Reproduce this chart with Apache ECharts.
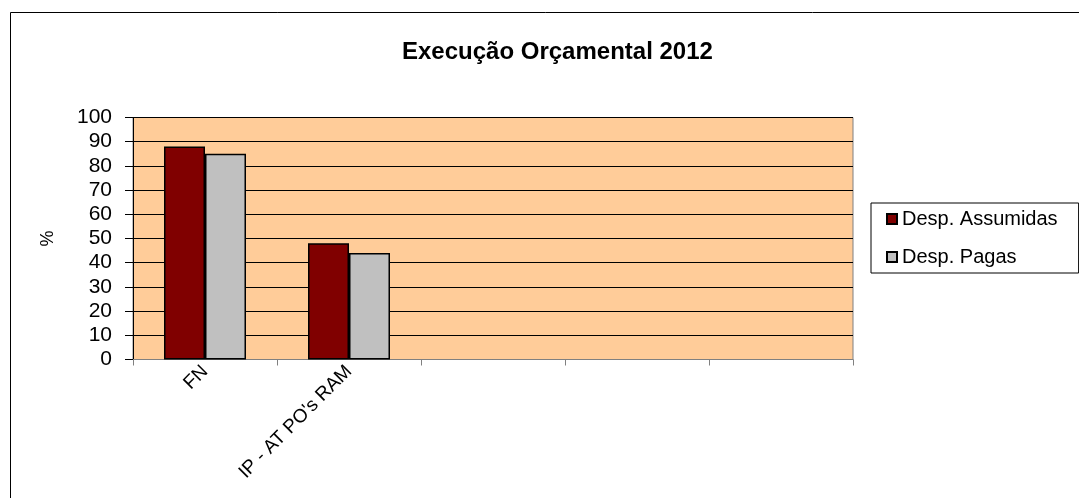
<!DOCTYPE html>
<html>
<head>
<meta charset="utf-8">
<script src="https://cdn.jsdelivr.net/npm/echarts@6/dist/echarts.min.js"></script>
<style>
  html, body { margin: 0; padding: 0; background: #fff; }
  #chart { width: 1079px; height: 498px; }
</style>
</head>
<body>
<div id="chart"></div>
<script>
// Budget execution 2012, percentages by programme
const categories = ['FN', "IP - AT PO's RAM", '', '', ''];
const despAssumidas = [88, 48, null, null, null];
const despPagas = [85, 44, null, null, null];
const yTicks = [0, 10, 20, 30, 40, 50, 60, 70, 80, 90, 100];

const chart = echarts.init(document.getElementById('chart'), null, { renderer: 'canvas' });
const font = 'Liberation Sans, Arial, sans-serif';

chart.setOption({
  animation: false,
  backgroundColor: '#fff',
  textStyle: { fontFamily: font },
  title: {
    text: 'Execução Orçamental 2012',
    left: 397,
    top: 35,
    textStyle: { fontSize: 24, fontWeight: 'bold', color: '#000', fontFamily: font }
  },
  graphic: [{
    type: 'rect',
    shape: { x: 10.5, y: 12.5, width: 1200, height: 600 },
    style: { fill: 'none', stroke: '#000', lineWidth: 1 },
    silent: true
  }],
  legend: {
    orient: 'vertical',
    left: 871,
    top: 203,
    padding: [6, 21, 6, 15],
    itemGap: 18,
    itemWidth: 10,
    itemHeight: 10,
    itemTextGap: 9,
    icon: 'rect',
    borderColor: '#000',
    borderWidth: 1,
    textStyle: { fontSize: 20, color: '#000', fontFamily: font },
    data: ['Desp. Assumidas', 'Desp. Pagas']
  },
  grid: {
    left: 133,
    right: 226,
    top: 117.5,
    bottom: 138.5,
    show: true,
    backgroundColor: '#FFCC99',
    borderColor: '#808080',
    borderWidth: 1
  },
  xAxis: {
    type: 'category',
    data: categories,
    axisLine: { lineStyle: { color: '#808080', width: 1 } },
    axisTick: { show: true, length: 6, lineStyle: { color: '#808080' } },
    axisLabel: { rotate: 45, fontSize: 19, color: '#000', margin: 9, interval: 0, fontFamily: font },
    splitLine: { show: false }
  },
  yAxis: {
    type: 'value',
    min: 0,
    max: 100,
    interval: 10,
    name: '%',
    nameLocation: 'middle',
    nameGap: 76,
    nameRotate: 90,
    nameTextStyle: { fontSize: 18, color: '#000', fontFamily: font },
    axisLine: { show: true, lineStyle: { color: '#000', width: 1 } },
    axisTick: { show: true, length: 8, lineStyle: { color: '#000' } },
    axisLabel: {
      fontSize: 21, color: '#000', margin: 21, fontFamily: font,
      formatter: v => (yTicks.includes(v) ? String(v) : '')
    },
    splitLine: { show: true, lineStyle: { color: '#000', width: 1 } }
  },
  series: [
    {
      name: 'Desp. Assumidas',
      type: 'bar',
      data: despAssumidas,
      barWidth: 41,
      barGap: '0%',
      itemStyle: { color: '#800000', borderColor: '#000', borderWidth: 1.5 }
    },
    {
      name: 'Desp. Pagas',
      type: 'bar',
      data: despPagas,
      barWidth: 41,
      barGap: '0%',
      itemStyle: { color: '#C0C0C0', borderColor: '#000', borderWidth: 1.5 }
    }
  ]
});
</script>
</body>
</html>
